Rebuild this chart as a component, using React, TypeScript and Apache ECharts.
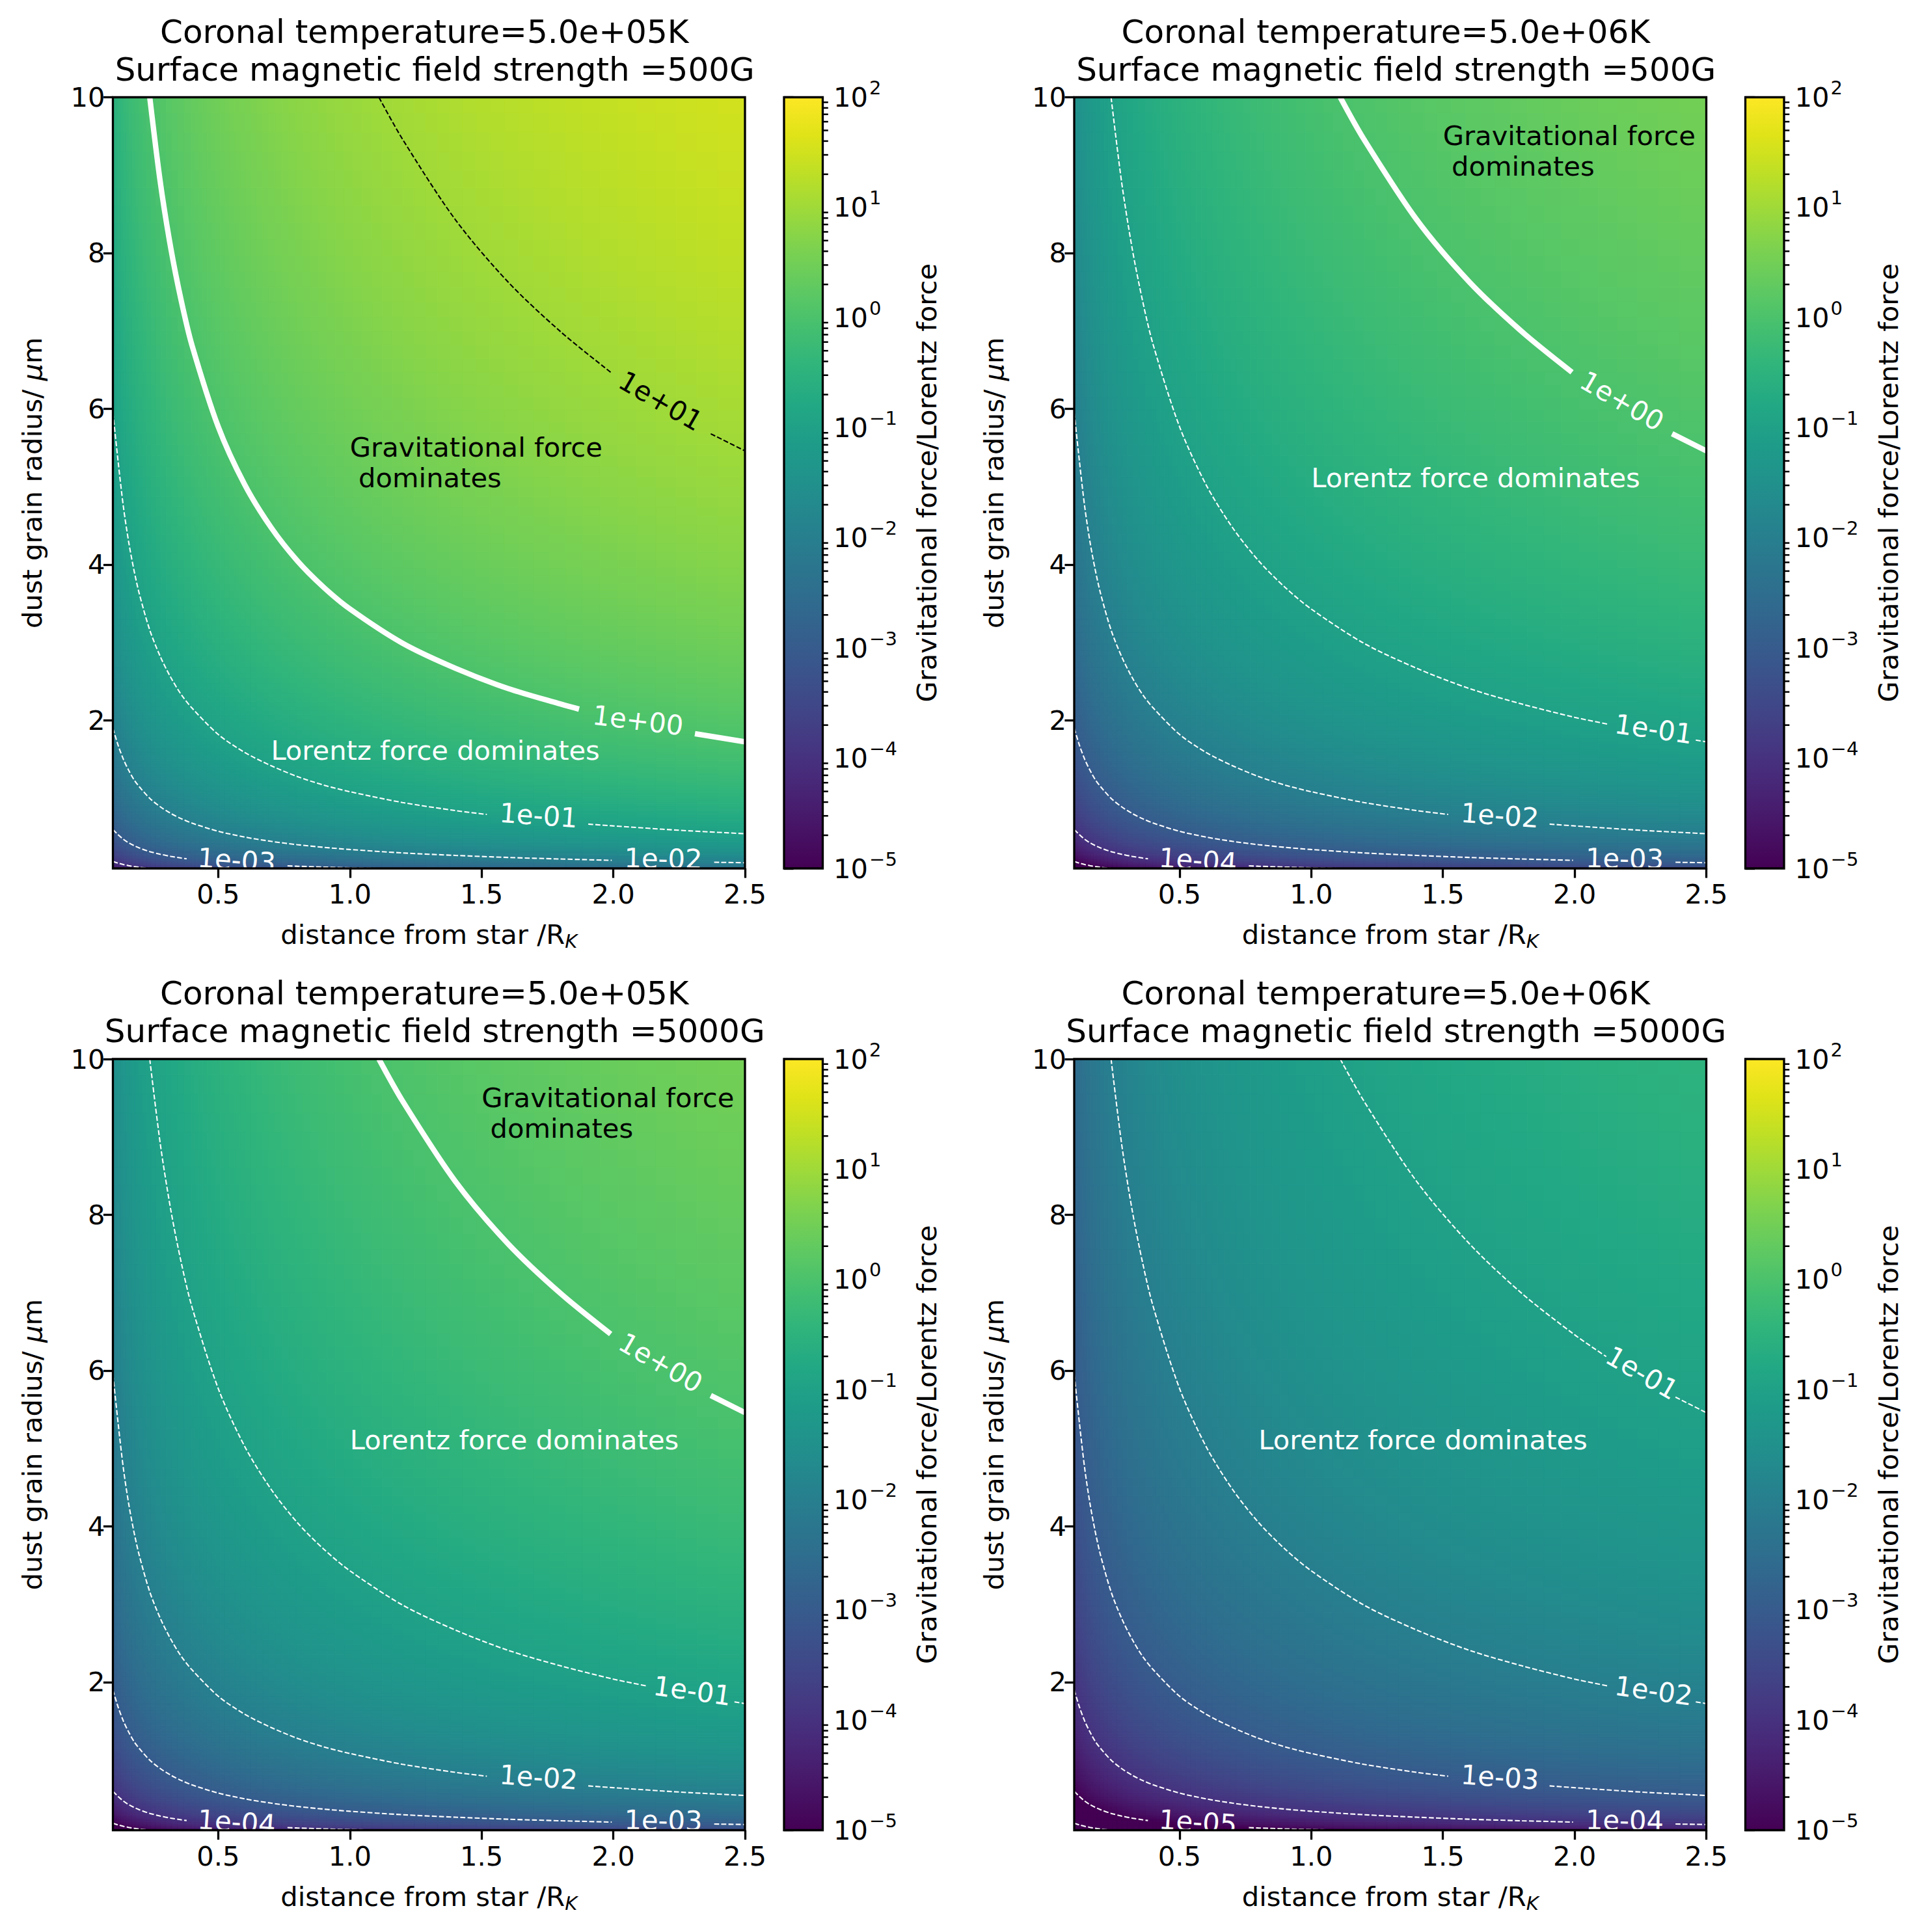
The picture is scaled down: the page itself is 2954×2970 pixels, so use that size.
import React, { useEffect, useRef } from 'react';
import * as echarts from 'echarts';

// cell edges of the force ratio map, tighter where the colours change fast
const xEdges = [0.1, 0.1072, 0.1148, 0.123, 0.1318, 0.1413, 0.1514, 0.1622, 0.1738, 0.1862, 0.1995, 0.2138, 0.2291, 0.2455, 0.263, 0.2818, 0.302, 0.3236, 0.3467, 0.3715,
  0.3981, 0.4121, 0.4266, 0.4416, 0.4571, 0.4732, 0.4898, 0.507, 0.5248, 0.5433, 0.5623, 0.5821, 0.6026, 0.6237, 0.6457, 0.6683, 0.6918, 0.7161, 0.7413, 0.7674, 0.7943, 0.8222, 0.8511, 0.881, 0.912, 0.9441, 0.9772, 1.0116, 1.0471, 1.0839, 1.122, 1.1614, 1.2023, 1.2445, 1.2882, 1.3335, 1.3804, 1.4289, 1.4791, 1.5311, 1.5849, 1.6406, 1.6982, 1.7579, 1.8197, 1.8836, 1.9498, 2.0184, 2.0893, 2.1627, 2.2387, 2.3174, 2.3988, 2.4831, 2.5];
const yEdges = [0.1, 0.1053, 0.1109, 0.1168, 0.123, 0.1296, 0.1365, 0.1437, 0.1514, 0.1594, 0.1679, 0.1768, 0.1862, 0.1961, 0.2065, 0.2175, 0.2291, 0.2413, 0.2541, 0.2676, 0.2818, 0.2968, 0.3126, 0.3293, 0.3467, 0.3652, 0.3846, 0.405, 0.4266, 0.4493, 0.4732, 0.4984, 0.5248, 0.5528, 0.5821, 0.6131, 0.6457, 0.6801, 0.7161, 0.7544,
  0.7943, 0.8152, 0.8366, 0.8585, 0.881, 0.9042, 0.9279, 0.9523, 0.9772, 1.0029, 1.0292, 1.0562, 1.0839, 1.1124, 1.1416, 1.1716, 1.2023, 1.2339, 1.2663, 1.2996, 1.3335, 1.3685, 1.4045, 1.4414, 1.4791, 1.5179, 1.5578, 1.5987, 1.6406, 1.6837, 1.728, 1.7734, 1.8197, 1.8676, 1.9165, 1.9668, 2.0184, 2.0715, 2.1257, 2.1816, 2.2387, 2.2976, 2.3578, 2.4198, 2.4831, 2.5484, 2.6153, 2.684, 2.7542, 2.8266, 2.9007, 2.9769, 3.0549, 3.1352, 3.2175, 3.3021, 3.3884, 3.4774, 3.5686, 3.6624, 3.7584, 3.8572, 3.9584, 4.0624, 4.1687, 4.2783, 4.3904, 4.5057, 4.6238, 4.7453, 4.8697, 4.9977, 5.1286, 5.2634, 5.4014, 5.5433, 5.6885, 5.838, 5.9911, 6.1485, 6.3096, 6.4754, 6.6453, 6.8199, 6.9984, 7.1823, 7.3706, 7.5643, 7.7625, 7.9665, 8.1752, 8.39, 8.6099, 8.8362, 9.0678, 9.3061, 9.5499, 9.8008, 10];

// the contours all have one shape, so the map splits into a part per column and a part per row (decades)
const columnDecades = [-2.55, -2.505, -2.46, -2.415, -2.37, -2.325, -2.28, -2.235, -2.19, -2.145, -2.1, -2.055, -2.01, -1.965, -1.92, -1.875, -1.83, -1.785, -1.74, -1.695,
  -1.661, -1.639, -1.616, -1.594, -1.571, -1.549, -1.526, -1.504, -1.481, -1.459, -1.436, -1.414, -1.391, -1.369, -1.346, -1.324, -1.301, -1.279, -1.256, -1.234, -1.211, -1.189, -1.166, -1.144, -1.121, -1.099, -1.076, -1.054, -1.031, -1.009, -0.986, -0.964, -0.941, -0.919, -0.896, -0.874, -0.851, -0.829, -0.806, -0.784, -0.761, -0.739, -0.716, -0.694, -0.671, -0.649, -0.626, -0.604, -0.581, -0.559, -0.536, -0.514, -0.491, -0.475];
const rowDecades = [-1.978, -1.933, -1.888, -1.843, -1.798, -1.753, -1.708, -1.663, -1.618, -1.573, -1.528, -1.483, -1.438, -1.393, -1.348, -1.303, -1.258, -1.213, -1.168, -1.123, -1.078, -1.033, -0.988, -0.943, -0.898, -0.853, -0.808, -0.763, -0.718, -0.673, -0.628, -0.583, -0.538, -0.493, -0.448, -0.403, -0.358, -0.313, -0.268, -0.223,
  -0.189, -0.166, -0.144, -0.121, -0.099, -0.076, -0.054, -0.031, -0.009, 0.014, 0.036, 0.059, 0.081, 0.104, 0.126, 0.149, 0.171, 0.194, 0.216, 0.239, 0.261, 0.284, 0.306, 0.329, 0.351, 0.374, 0.396, 0.419, 0.441, 0.464, 0.486, 0.509, 0.531, 0.554, 0.576, 0.599, 0.621, 0.644, 0.666, 0.689, 0.711, 0.734, 0.756, 0.779, 0.801, 0.824, 0.846, 0.869, 0.891, 0.914, 0.936, 0.959, 0.981, 1.004, 1.026, 1.049, 1.071, 1.094, 1.116, 1.139, 1.161, 1.184, 1.206, 1.229, 1.251, 1.274, 1.296, 1.319, 1.341, 1.364, 1.386, 1.409, 1.431, 1.454, 1.476, 1.499, 1.521, 1.544, 1.566, 1.589, 1.611, 1.634, 1.656, 1.679, 1.701, 1.724, 1.746, 1.769, 1.791, 1.814, 1.836, 1.859, 1.881, 1.904, 1.926, 1.949, 1.971, 1.994];
const panelShift = [0, -1, -1, -2];

const titles = [
  'Coronal temperature=5.0e+05K \n Surface magnetic field strength =500G',
  'Coronal temperature=5.0e+06K \n Surface magnetic field strength =500G',
  'Coronal temperature=5.0e+05K \n Surface magnetic field strength =5000G',
  'Coronal temperature=5.0e+06K \n Surface magnetic field strength =5000G',
];

// contour curves, top right to bottom left
const contourA = [[1.11, 10], [1.2, 9.46], [1.4, 8.43], [1.6, 7.63], [1.8, 6.99], [2, 6.46], [2.25, 5.9], [2.5, 5.46]];
const contourB = [[0.24, 10], [0.28, 8.91], [0.32, 8.06], [0.36, 7.38], [0.4, 6.82], [0.5, 5.77], [0.6, 5.03], [0.7, 4.48], [0.8, 4.05], [0.9, 3.71], [1, 3.43], [1.2, 2.99], [1.4, 2.67], [1.6, 2.41], [1.8, 2.21], [2, 2.04], [2.25, 1.87], [2.5, 1.725]];
const contourC = [[0.1, 5.95], [0.12, 5.32], [0.14, 4.74], [0.16, 4.29], [0.18, 3.93], [0.2, 3.63], [0.24, 3.16], [0.28, 2.82], [0.32, 2.55], [0.36, 2.33], [0.4, 2.16], [0.5, 1.82], [0.6, 1.59], [0.7, 1.42], [0.8, 1.28], [0.9, 1.17], [1, 1.085], [1.2, 0.946], [1.4, 0.843], [1.6, 0.763], [1.8, 0.699], [2, 0.646], [2.25, 0.59], [2.5, 0.546]];
const contourD = [[0.1, 1.9], [0.12, 1.68], [0.14, 1.5], [0.16, 1.36], [0.18, 1.24], [0.2, 1.15], [0.24, 1], [0.28, 0.891], [0.32, 0.806], [0.36, 0.738], [0.4, 0.682], [0.5, 0.577], [0.6, 0.503], [0.7, 0.448], [0.8, 0.405], [0.9, 0.371], [1, 0.343], [1.2, 0.299], [1.4, 0.267], [1.6, 0.241], [1.8, 0.221], [2, 0.204], [2.25, 0.187], [2.5, 0.173]];
const contourE = [[0.1, 0.6], [0.12, 0.532], [0.14, 0.474], [0.16, 0.429], [0.18, 0.393], [0.2, 0.363], [0.24, 0.316], [0.28, 0.282], [0.32, 0.255], [0.36, 0.233], [0.4, 0.216], [0.5, 0.182], [0.6, 0.159], [0.7, 0.142], [0.8, 0.128], [0.9, 0.117], [1, 0.1085], [1.1, 0.1005]];
const contourF = [[0.1, 0.19], [0.12, 0.168], [0.14, 0.15], [0.16, 0.136], [0.18, 0.124], [0.2, 0.115], [0.24, 0.1]];
const contours = [contourA, contourB, contourC, contourD, contourE, contourF];

// labels per panel, one for each contour above; the last contour never has one
const contourLabels = [
  ['1e+01', '1e+00', '1e-01', '1e-02', '1e-03'],
  ['1e+00', '1e-01', '1e-02', '1e-03', '1e-04'],
  ['1e+00', '1e-01', '1e-02', '1e-03', '1e-04'],
  ['1e-01', '1e-02', '1e-03', '1e-04', '1e-05'],
];

// where each label sits: x, y, angle, then the two ends of the gap it cuts in the line
const labelSpotA = [2.18, 6.1, -30, [1.99, 6.47], [2.37, 5.68]];
const labelSpotA4 = [2.256, 5.97, -30, [2.12, 6.18], [2.383, 5.66]];
const labelSpotB = [2.094, 2.0, -7, [1.87, 2.145], [2.31, 1.83]];
const labelSpotB2 = [2.3, 1.89, -8, [2.13, 1.95], [2.46, 1.747]];
const labelSpotC = [1.716, 0.78, -4, [1.52, 0.793], [1.905, 0.669]];
const labelSpotD = [2.19, 0.225, -1, [1.994, 0.204], [2.383, 0.179]];
const labelSpotE = [0.57, 0.205, -4, [0.38, 0.224], [0.763, 0.133]];
const labelSpots = [
  [labelSpotA, labelSpotB, labelSpotC, labelSpotD, labelSpotE],
  [labelSpotA, labelSpotB2, labelSpotC, labelSpotD, labelSpotE],
  [labelSpotA, labelSpotB2, labelSpotC, labelSpotD, labelSpotE],
  [labelSpotA4, labelSpotB2, labelSpotC, labelSpotD, labelSpotE],
];

const gravityNote = 'Gravitational force\n dominates';
const lorentzNote = 'Lorentz force dominates';
const notes = [
  [[1, 5, gravityNote, '#000'], [0.7, 1.5, lorentzNote, '#fff']],
  [[1.5, 9, gravityNote, '#000'], [1, 5, lorentzNote, '#fff']],
  [[1.5, 9, gravityNote, '#000'], [1, 5, lorentzNote, '#fff']],
  [[0.8, 5, lorentzNote, '#fff']],
];

const xTicks = [0.5, 1, 1.5, 2, 2.5];
const yTicks = [2, 4, 6, 8, 10];
const colorbarDecades = [1e-5, 1e-4, 1e-3, 1e-2, 1e-1, 1, 10];
const colorbarMultiples = [2, 3, 4, 5, 6, 7, 8, 9];
const viridis = ['#440154', '#471365', '#482475', '#463480', '#414487', '#3b528b', '#355f8d', '#2f6c8e', '#2a788e', '#25848e', '#21918c', '#1e9c89', '#22a884', '#2fb47c', '#44bf70', '#5ec962', '#7ad151', '#9bd93c', '#bddf26', '#dfe318', '#fde725'];

const FONT = 'DejaVu Sans';
const plotLefts = [173.5, 1651];
const plotTops = [149.5, 1628];
const plotW = 971.5;
const plotH = 1185.5;
const barGap = 60;
const barW = 59.5;
const spine = 3.3;

const fieldItem = (api: any) => {
  const a = api.coord([api.value(0), api.value(1)]);
  const b = api.coord([api.value(3), api.value(4)]);
  const fill = api.visual('color');
  return {
    type: 'rect',
    shape: { x: a[0], y: b[1], width: b[0] - a[0], height: a[1] - b[1] },
    style: { fill, stroke: fill, lineWidth: 1 },
  };
};

const frameItem = (api: any) => {
  const a = api.coord([api.value(0), api.value(1)]);
  const b = api.coord([api.value(2), api.value(3)]);
  return {
    type: 'rect',
    shape: { x: a[0], y: b[1], width: b[0] - a[0], height: a[1] - b[1] },
    style: { fill: 'none', stroke: '#000', lineWidth: spine },
  };
};

function buildOption() {
  const grid: any[] = [];
  const xAxis: any[] = [];
  const yAxis: any[] = [];
  const title: any[] = [];
  const series: any[] = [];
  const fieldSeries: number[] = [];

  titles.forEach((text, p) => {
    const left = plotLefts[p % 2];
    const top = plotTops[p < 2 ? 0 : 1];
    const main = grid.length;
    grid.push({ left, top, width: plotW, height: plotH });
    const bar = grid.length;
    grid.push({ left: left + plotW + barGap, top, width: barW, height: plotH });

    title.push({
      text,
      left: left + plotW / 2 - 4,
      top: top - 135,
      textAlign: 'center',
      textStyle: { fontFamily: FONT, fontSize: 50, fontWeight: 'normal', color: '#000', lineHeight: 58 },
    });

    const tickStyle = { length: 14.6, lineStyle: { color: '#000', width: spine } };
    const labelStyle = { fontFamily: FONT, fontSize: 41.67, color: '#000', margin: 14.6 };
    xAxis.push({
      gridIndex: main, type: 'value', min: 0.1, max: 2.5, splitLine: { show: false },
      axisLine: { show: false },
      axisTick: { ...tickStyle, customValues: xTicks },
      axisLabel: { ...labelStyle, margin: 18.6, customValues: xTicks, formatter: (v: number) => v.toFixed(1) },
      name: '{a|distance from star /R}{k|K}', nameLocation: 'middle', nameGap: 76.5,
      nameTextStyle: {
        rich: {
          a: { fontFamily: FONT, fontSize: 41.67, color: '#000', lineHeight: 50 },
          k: { fontFamily: FONT, fontSize: 29, fontStyle: 'italic', color: '#000', lineHeight: 29, verticalAlign: 'bottom' },
        },
      },
    });
    yAxis.push({
      gridIndex: main, type: 'value', min: 0.1, max: 10, splitLine: { show: false },
      axisLine: { show: false },
      axisTick: { ...tickStyle, customValues: yTicks },
      axisLabel: { ...labelStyle, margin: 12, customValues: yTicks, formatter: (v: number) => String(v) },
      name: '{a|dust grain radius/ }{m|μ}{a|m}', nameLocation: 'middle', nameGap: 103, nameRotate: 90,
      nameTextStyle: {
        rich: {
          a: { fontFamily: FONT, fontSize: 41.67, color: '#000' },
          m: { fontFamily: FONT, fontSize: 41.67, fontStyle: 'italic', color: '#000' },
        },
      },
    });
    xAxis.push({ gridIndex: bar, type: 'value', min: 0, max: 1, show: false });
    yAxis.push({
      gridIndex: bar, type: 'log', logBase: 10, min: 1e-5, max: 100, position: 'right', splitLine: { show: false },
      axisLine: { show: false },
      axisTick: { ...tickStyle },
      axisLabel: {
        ...labelStyle,
        margin: 16.6,
        formatter: (v: number) => {
          const e = Math.round(Math.log10(v));
          return `{b|10}{s|${e < 0 ? '−' : ''}${Math.abs(e)}}`;
        },
        rich: {
          b: { fontFamily: FONT, fontSize: 41.67, color: '#000', lineHeight: 58 },
          s: { fontFamily: FONT, fontSize: 29, color: '#000', lineHeight: 34, verticalAlign: 'top', padding: [0, 0, 0, 2] },
        },
      },
      name: 'Gravitational force/Lorentz force', nameLocation: 'middle', nameGap: 160, nameRotate: 90,
      nameTextStyle: { fontFamily: FONT, fontSize: 41.67, color: '#000', verticalAlign: 'middle' },
    });

    // force ratio map
    const cells: number[][] = [];
    columnDecades.forEach((cd, i) => {
      rowDecades.forEach((rd, j) => {
        const v = Math.max(-5, Math.min(2, cd + rd + panelShift[p]));
        cells.push([xEdges[i], yEdges[j], v, xEdges[i + 1], yEdges[j + 1]]);
      });
    });
    fieldSeries.push(series.length);
    series.push({
      type: 'custom', xAxisIndex: main, yAxisIndex: main, clip: true, z: 1, silent: true,
      renderItem: (_: any, api: any) => fieldItem(api), data: cells, progressive: 0,
      encode: { x: [0, 3], y: [1, 4] }, dimensions: ['x0', 'y0', 'v', 'x1', 'y1'],
    });

    // contours, broken where their labels sit
    contours.forEach((curve, c) => {
      const text = contourLabels[p][c];
      const spot = labelSpots[p][c] as any;
      const points: any[] = [];
      if (spot) {
        curve.filter((q) => q[0] < spot[3][0]).forEach((q) => points.push(q));
        points.push(spot[3], ['-', '-'], spot[4]);
        curve.filter((q) => q[0] > spot[4][0]).forEach((q) => points.push(q));
      } else {
        curve.forEach((q) => points.push(q));
      }
      const thick = text === '1e+00';
      series.push({
        type: 'line', xAxisIndex: main, yAxisIndex: main, data: points, showSymbol: false, silent: true,
        smooth: 0.3, z: 3, clip: true,
        lineStyle: thick
          ? { color: '#fff', width: 8.3, type: 'solid' }
          : { color: text === '1e+01' ? '#000' : '#fff', width: 2.08, type: [7.7, 3.3] },
      });
    });

    // contour labels
    const labelData = contourLabels[p].map((text, c) => {
      const s = labelSpots[p][c] as any;
      return [s[0], s[1], s[2], text];
    });
    series.push({
      type: 'custom', xAxisIndex: main, yAxisIndex: main, clip: true, z: 4, silent: true, data: labelData,
      dimensions: ['x', 'y', 'angle', { name: 'text', type: 'ordinal' }], encode: { x: 0, y: 1 },
      renderItem: (params: any, api: any) => {
        const row = labelData[params.dataIndex];
        const c = api.coord([row[0], row[1]]);
        return {
          type: 'text', x: c[0], y: c[1], rotation: ((row[2] as number) * Math.PI) / 180,
          style: {
            text: row[3], fontFamily: FONT, fontSize: 41.67,
            fill: row[3] === '1e+01' ? '#000' : '#fff', align: 'center', verticalAlign: 'middle',
          },
        };
      },
    });

    // region notes
    const noteData = notes[p];
    series.push({
      type: 'custom', xAxisIndex: main, yAxisIndex: main, clip: false, z: 4, silent: true, data: noteData,
      dimensions: ['x', 'y', { name: 'text', type: 'ordinal' }, { name: 'color', type: 'ordinal' }], encode: { x: 0, y: 1 },
      renderItem: (params: any, api: any) => {
        const row = noteData[params.dataIndex];
        const c = api.coord([row[0], row[1]]);
        return {
          type: 'text', x: c[0], y: c[1] + 10,
          style: {
            text: row[2], fontFamily: FONT, fontSize: 41.67, lineHeight: 47, fill: row[3],
            align: 'left', verticalAlign: 'bottom',
          },
        };
      },
    });

    series.push({
      type: 'custom', xAxisIndex: main, yAxisIndex: main, clip: false, z: 6, silent: true,
      data: [[0.1, 0.1, 2.5, 10]], encode: { x: [0, 2], y: [1, 3] }, renderItem: (_: any, api: any) => frameItem(api),
    });

    // colour bar
    const stops = viridis.map((color, i) => ({ offset: i / (viridis.length - 1), color }));
    series.push({
      type: 'custom', xAxisIndex: bar, yAxisIndex: bar, clip: false, z: 2, silent: true,
      data: [[0, 1e-5, 1, 100]], encode: { x: [0, 2], y: [1, 3] },
      renderItem: (_: any, api: any) => {
        const a = api.coord([api.value(0), api.value(1)]);
        const b = api.coord([api.value(2), api.value(3)]);
        return {
          type: 'rect',
          shape: { x: a[0], y: b[1], width: b[0] - a[0], height: a[1] - b[1] },
          style: { fill: new echarts.graphic.LinearGradient(0, 1, 0, 0, stops) },
        };
      },
    });
    series.push({
      type: 'custom', xAxisIndex: bar, yAxisIndex: bar, clip: false, z: 6, silent: true,
      data: [[0, 1e-5, 1, 100]], encode: { x: [0, 2], y: [1, 3] }, renderItem: (_: any, api: any) => frameItem(api),
    });
    const minors: number[][] = [];
    colorbarDecades.forEach((d) => colorbarMultiples.forEach((m) => minors.push([1, d * m])));
    series.push({
      type: 'custom', xAxisIndex: bar, yAxisIndex: bar, clip: false, z: 6, silent: true,
      data: minors, encode: { x: 0, y: 1 },
      renderItem: (_: any, api: any) => {
        const c = api.coord([api.value(0), api.value(1)]);
        return {
          type: 'line',
          shape: { x1: c[0], y1: c[1], x2: c[0] + 8.3, y2: c[1] },
          style: { stroke: '#000', lineWidth: 2.5 },
        };
      },
    });
  });

  return {
    animation: false,
    backgroundColor: '#fff',
    title,
    grid,
    xAxis,
    yAxis,
    series,
    visualMap: {
      type: 'continuous', show: false, min: -5, max: 2, dimension: 2, seriesIndex: fieldSeries,
      inRange: { color: viridis },
    },
  };
}

export default function App() {
  const ref = useRef<HTMLDivElement>(null);
  useEffect(() => {
    if (ref.current) {
      const chart = echarts.init(ref.current, undefined, { renderer: 'svg' });
      chart.setOption(buildOption() as any);
      return () => chart.dispose();
    }
  }, []);
  return <div ref={ref} style={{ position: 'absolute', left: 0, top: 0, width: 2954, height: 2970 }} />;
}
